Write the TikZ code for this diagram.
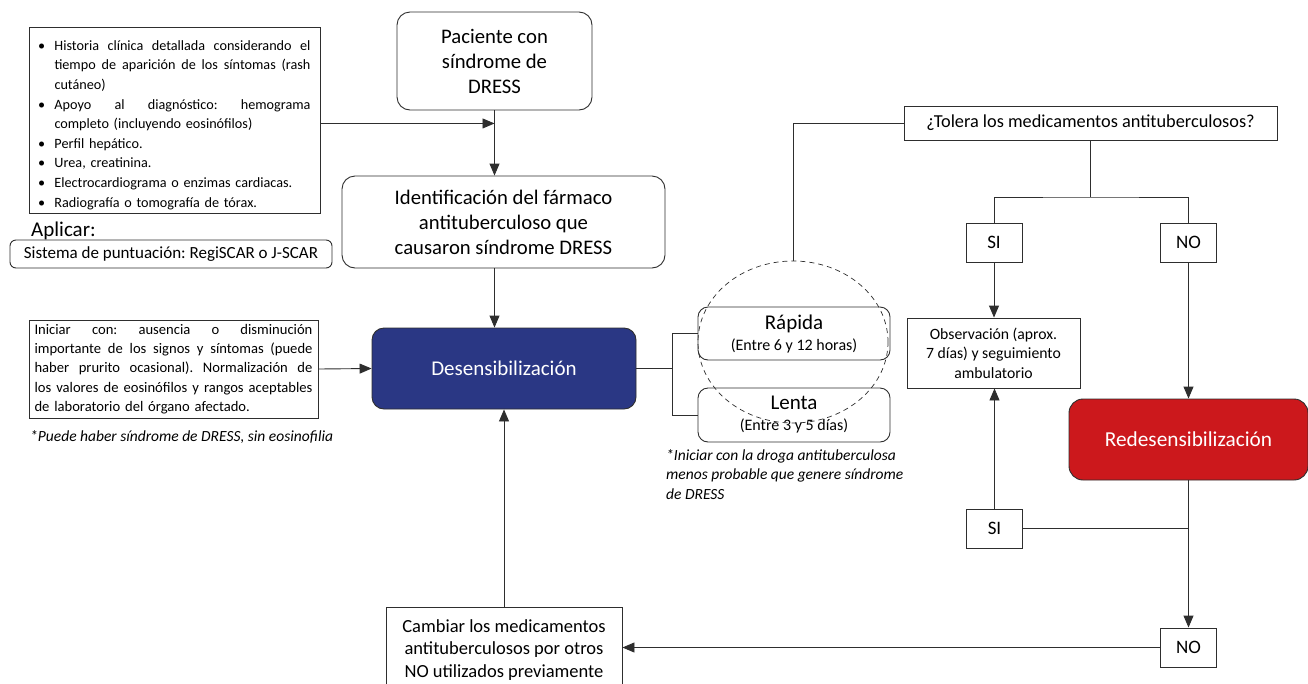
\documentclass[tikz,border=0pt]{standalone}
\usepackage{fontspec}
\setmainfont{Carlito}
\usetikzlibrary{arrows.meta,shapes.geometric,calc}
\definecolor{dblue}{HTML}{2A3784}
\definecolor{dred}{HTML}{CC181C}
\definecolor{lc}{HTML}{2E2E2E}
\frenchspacing
\newcommand{\jline}[2]{\makebox[#1][s]{\frenchspacing\spaceskip=0pt\relax\xspaceskip=0pt\relax #2}}
\newcommand{\bul}{\makebox[18pt][l]{\hspace{1.5pt}•}}
\begin{document}
\begin{tikzpicture}[x=1pt,y=-1pt,
  box/.style={draw=lc,line width=0.9pt,rectangle,inner sep=0pt,align=center,fill=white},
  rbox/.style={box,rounded corners=13pt},
  conn/.style={draw=lc,line width=0.9pt},
  arr/.style={conn,-{Triangle[length=12pt,width=10pt]}},
  plain/.style={inner sep=0pt}
  ]
\useasboundingbox (0,0) rectangle (1308,683);
\clip (0,0) rectangle (1308,683);
\fill[white] (0,0) rectangle (1308,683);

% left column
\node[box, minimum width=291pt, minimum height=186pt, text width=276pt, align=left,
      font=\fontsize{14.2}{19.6}\selectfont] (bul) at (174.5,120) {%
\rule{0pt}{20pt}\bul\jline{256pt}{Historia clínica detallada considerando el}\\
\hspace*{18pt}\jline{256pt}{tiempo de aparición de los síntomas (rash}\\
\hspace*{18pt}cutáneo)\\
\bul\jline{256pt}{Apoyo al diagnóstico: hemograma}\\
\hspace*{18pt}completo (incluyendo eosinófilos)\\
\bul Perfil hepático.\\
\bul Urea, creatinina.\\
\bul Electrocardiograma o enzimas cardiacas.\\
\bul Radiografía o tomografía de tórax.};

\node[plain, anchor=west, font=\fontsize{21}{24}\selectfont] (apl) at (31,231) {Aplicar:};
\node[box, rounded corners=6pt, minimum width=322pt, minimum height=28pt,
      font=\fontsize{17}{20}\selectfont] (sis) at (171,254) {Sistema de puntuación: RegiSCAR o J-SCAR};

\node[box, minimum width=289pt, minimum height=98pt, text width=278pt, align=left,
      font=\fontsize{14.6}{19.4}\selectfont] (ini) at (173.5,369) {%
\jline{278pt}{Iniciar con: ausencia o disminución}\\
\jline{278pt}{importante de los signos y síntomas (puede}\\
\jline{278pt}{haber prurito ocasional). Normalización de}\\
\jline{278pt}{los valores de eosinófilos y rangos aceptables}\\
de laboratorio del órgano afectado.};
\node[plain, anchor=west, font=\fontsize{15.5}{18}\selectfont\itshape] (puede) at (30,437)
  {*Puede haber síndrome de DRESS, sin eosinofilia};

% centre column
\node[rbox, minimum width=195pt, minimum height=98pt, font=\fontsize{20.7}{25}\selectfont]
  (pac) at (494.5,61) {Paciente con\\síndrome de\\DRESS};
\node[rbox, minimum width=323pt, minimum height=92pt, font=\fontsize{20.7}{25}\selectfont]
  (ident) at (503.5,222) {Identificación del fármaco\\antituberculoso que\\causaron síndrome DRESS};
\node[rbox, rounded corners=12pt, fill=dblue, text=white, minimum width=264pt, minimum height=81pt,
      font=\fontsize{21}{24}\selectfont] (desens) at (504,368.5) {Desensibilización};
\node[box, minimum width=236pt, minimum height=86pt, font=\fontsize{18.5}{22.5}\selectfont]
  (camb) at (504,650) {Cambiar los medicamentos\\antituberculosos por otros\\NO utilizados previamente};

% desensitisation speeds
\node[rbox, rounded corners=10pt, fill=none, minimum width=192pt, minimum height=53pt,
      font=\fontsize{16}{21}\selectfont] (rap) at (794,333.5)
  {{\fontsize{21}{21}\selectfont Rápida}\\(Entre 6 y 12 horas)};
\node[rbox, rounded corners=10pt, fill=none, minimum width=192pt, minimum height=54pt,
      font=\fontsize{16}{21}\selectfont] (len) at (794,415)
  {{\fontsize{21}{21}\selectfont Lenta}\\(Entre 3 y 5 días)};
\node[draw=lc, ellipse, line width=0.7pt, dash pattern=on 5pt off 4pt, inner sep=0pt,
      minimum width=190pt, minimum height=162pt] (circ) at (793,342) {};
\node[plain, anchor=north west, align=left, font=\fontsize{15.5}{19.5}\selectfont\itshape]
  (note) at (666,449) {*Iniciar con la droga antituberculosa\\menos probable que genere síndrome\\de DRESS};

% right column
\node[box, minimum width=373pt, minimum height=34pt, font=\fontsize{18.3}{22}\selectfont]
  (tol) at (1090.5,123) {¿Tolera los medicamentos antituberculosos?};
\node[box, minimum width=56pt, minimum height=39pt, font=\fontsize{19}{22}\selectfont] (si1) at (994,242.5) {SI};
\node[box, minimum width=56pt, minimum height=39pt, font=\fontsize{19}{22}\selectfont] (no1) at (1188.5,242.5) {NO};
\node[box, minimum width=173pt, minimum height=70pt, font=\fontsize{15.7}{19.5}\selectfont]
  (obs) at (993.5,353) {Observación (aprox.\\7 días) y seguimiento\\ambulatorio};
\node[rbox, rounded corners=14pt, fill=dred, text=white, minimum width=239pt, minimum height=81pt,
      font=\fontsize{21.3}{24}\selectfont] (red) at (1188.5,439.5) {Redesensibilización};
\node[box, minimum width=56pt, minimum height=39pt, font=\fontsize{19}{22}\selectfont] (si2) at (994.5,528.5) {SI};
\node[box, minimum width=56pt, minimum height=39pt, font=\fontsize{19}{22}\selectfont] (no2) at (1188.5,647.5) {NO};

% connectors
\coordinate (j1) at ($(pac.south)+(0,13)$);
\draw[arr] (bul.east |- j1) -- (j1);
\draw[arr] (pac.south) -- (pac.south |- ident.north);
\draw[arr] (pac.south |- ident.south) -- (pac.south |- desens.north);
\draw[arr] (ini.east) -- (desens.west);
\coordinate (bx) at (672,369);
\draw[conn] (desens.east) -- (desens.east -| bx);
\draw[conn] (rap.west) -| (bx) |- (len.west);
\draw[conn] (tol.west) -| (circ.north);
\coordinate (br) at (1090.5,197);
\draw[conn] (tol.south) -- (br);
\draw[conn] (si1.north) |- (br) -| (no1.north);
\draw[arr] (si1.south) -- (si1.south |- obs.north);
\draw[arr] (no1.south) -- (no1.south |- red.north);
\draw[arr] (si2.north) -- (si2.north |- obs.south);
\draw[arr] (red.south) -- (red.south |- no2.north);
\draw[conn] (si2.east) -- (si2.east -| red.south);
\draw[arr] (no2.west) -- (no2.west -| camb.east);
\draw[arr] (camb.north) -- (desens.south);
\end{tikzpicture}
\end{document}
